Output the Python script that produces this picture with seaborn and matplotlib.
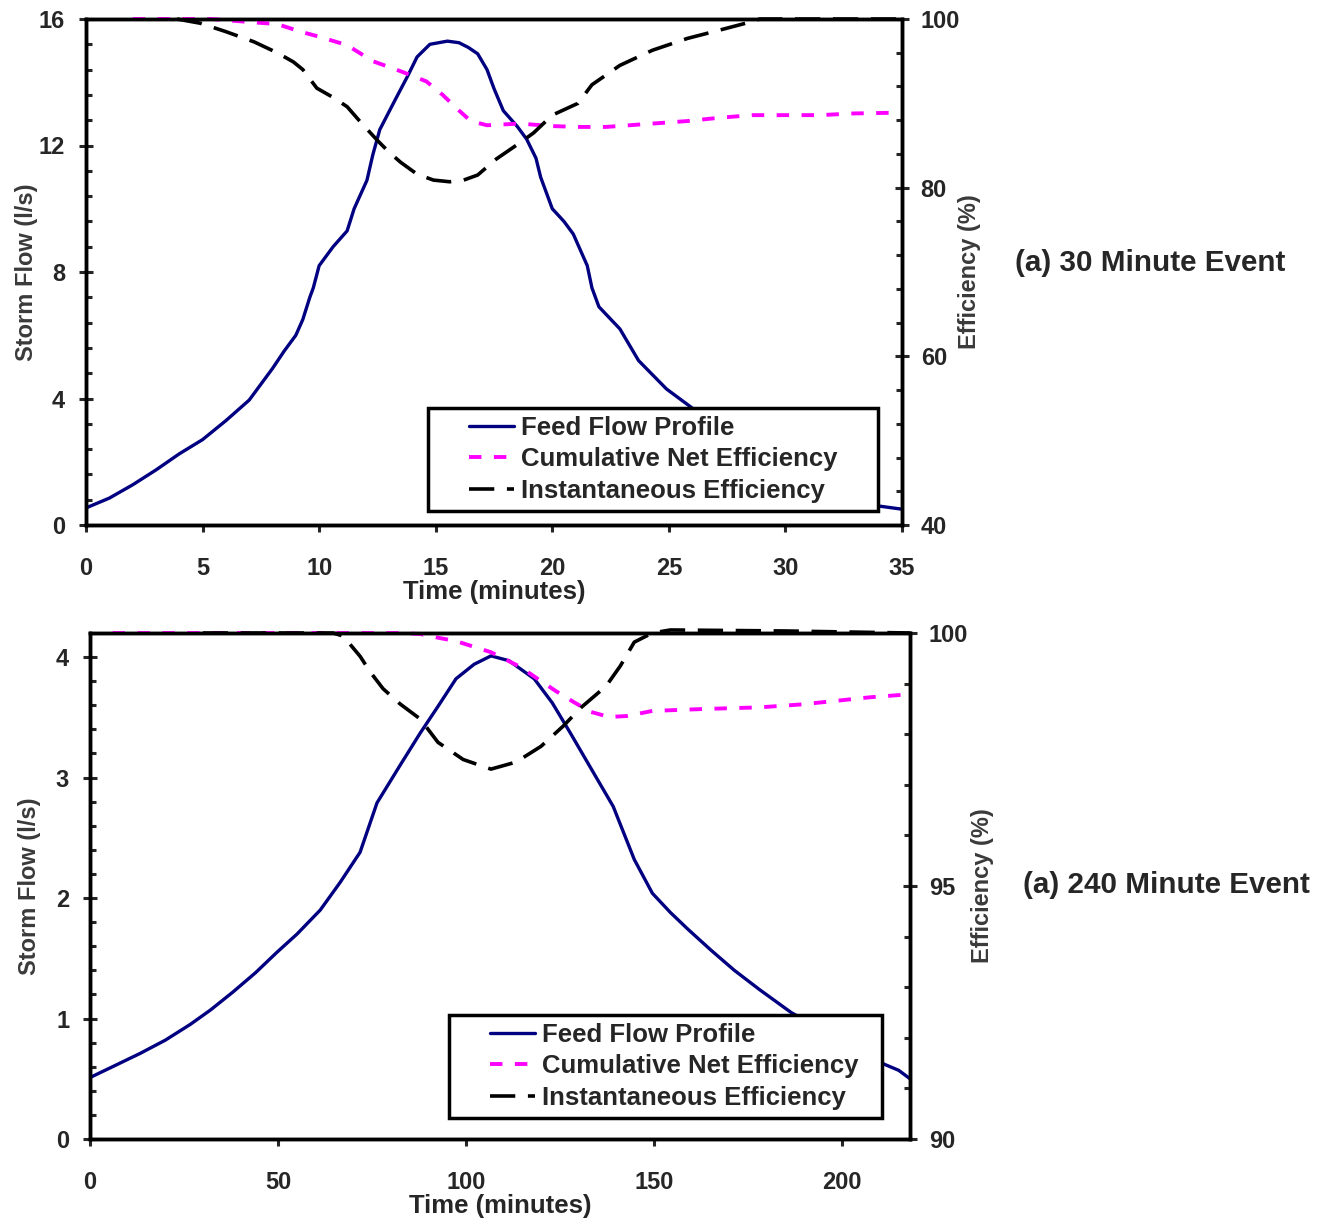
import matplotlib
matplotlib.use("Agg")
import matplotlib.pyplot as plt
import seaborn as sns
from matplotlib.lines import Line2D
from matplotlib.legend_handler import HandlerLine2D
from matplotlib.ticker import MultipleLocator

# ---- (a) 30 minute event ----
t30_flow = [0, 1, 2, 3, 4, 5, 6, 7, 8, 8.5, 9, 9.3, 9.6, 9.75, 10, 10.6, 11.2, 11.5, 12.05,
            12.3, 12.6, 13.3, 13.8, 14.2, 14.75, 15.5, 16.0, 16.4, 16.8, 17.2, 17.5, 17.9,
            18.5, 18.9, 19.3, 19.5, 19.8, 20.0, 20.5, 20.9, 21.2, 21.5, 21.7, 22.0, 22.9,
            23.7, 24.9, 26.0, 27, 28, 29, 30, 31, 32, 33, 34, 34.5, 35]
flow30 = [0.54, 0.85, 1.27, 1.74, 2.25, 2.70, 3.30, 3.95, 4.95, 5.5, 6.0, 6.5, 7.2, 7.5, 8.2,
          8.8, 9.3, 10.0, 10.9, 11.7, 12.5, 13.5, 14.2, 14.8, 15.2, 15.3, 15.25, 15.1, 14.9,
          14.4, 13.8, 13.1, 12.6, 12.2, 11.6, 11.0, 10.4, 10.0, 9.6, 9.2, 8.7, 8.2, 7.5,
          6.9, 6.2, 5.2, 4.3, 3.7, 3.2, 2.7, 2.25, 1.85, 1.5, 1.15, 0.85, 0.6, 0.55, 0.5]

t30_cum = [2.0, 5.4, 7.2, 8.2, 9.2, 10.0, 11.2, 12.3, 13.5, 14.6, 15.3, 15.9, 16.5, 17.2,
           18.6, 20.0, 21.2, 22.3, 24.3, 25.8, 27.2, 28.6, 31.5, 32.9, 35]
cum30 = [100, 100, 99.6, 99.4, 98.5, 97.9, 96.9, 95.0, 93.8, 92.6, 91.0, 89.4, 87.9, 87.4,
         87.6, 87.3, 87.2, 87.2, 87.6, 87.9, 88.3, 88.6, 88.6, 88.8, 88.9]

t30_inst = [3.9, 4.9, 6.0, 7.2, 8.2, 8.9, 9.3, 9.9, 10.6, 11.2, 11.8, 12.5, 13.0, 13.5, 14.2,
            14.9, 15.6, 16.2, 16.8, 17.6, 18.6, 19.2, 20.0, 21.1, 21.7, 22.9, 24.3, 25.8,
            27.2, 28.3, 28.9, 35]
inst30 = [100, 99.5, 98.5, 97.3, 96.0, 94.9, 94.0, 91.8, 90.7, 89.6, 87.7, 85.6, 84.2, 83.0,
          81.6, 80.9, 80.7, 80.9, 81.5, 83.4, 85.3, 86.5, 88.6, 90.0, 92.2, 94.5, 96.3, 97.7,
          98.7, 99.5, 100, 100]

# ---- (a) 240 minute event ----
t240_flow = [0, 6, 13.3, 20, 26.6, 32, 38, 44, 49.7, 55, 61.2, 66.5, 71.8, 76.3, 82.4, 87.8,
             92.5, 97.3, 102.1, 106.6, 111.4, 118.1, 122.9, 127.7, 133.3, 139.1, 144.7,
             149.5, 154.3, 159, 165, 171.3, 178, 186.4, 195, 203, 211.2, 215, 218]
flow240 = [0.51, 0.60, 0.71, 0.82, 0.95, 1.07, 1.22, 1.38, 1.55, 1.70, 1.90, 2.13, 2.38, 2.79,
           3.10, 3.37, 3.59, 3.82, 3.94, 4.01, 3.97, 3.82, 3.62, 3.37, 3.07, 2.76, 2.32,
           2.04, 1.88, 1.74, 1.57, 1.40, 1.24, 1.05, 0.90, 0.76, 0.62, 0.57, 0.50]

t240_cum = [6, 64, 82.4, 87.8, 93, 97.3, 106.6, 114.4, 119.1, 123.9, 128.7, 133.2, 138.0,
            142.8, 149.5, 163.8, 177.9, 189.4, 197.1, 207.4, 218]
cum240 = [100, 100, 100, 99.98, 99.90, 99.84, 99.62, 99.33, 99.09, 98.85, 98.63, 98.44, 98.34,
          98.36, 98.46, 98.50, 98.53, 98.59, 98.65, 98.73, 98.79]

t240_inst = [30, 64.6, 67.3, 71.8, 74.5, 77.9, 82.4, 87.8, 92.5, 99.2, 106.6, 113.3, 119.9,
             125.8, 130.6, 137.2, 141.0, 144.7, 149.5, 154.3, 185, 218]
inst240 = [100, 100, 99.94, 99.54, 99.23, 98.9, 98.6, 98.30, 97.84, 97.50, 97.31, 97.45,
           97.76, 98.16, 98.53, 98.95, 99.35, 99.82, 100, 100.06, 100.04, 100]

series_labels = ["Feed Flow Profile", "Cumulative Net Efficiency", "Instantaneous Efficiency"]

sns.set_style("ticks")
plt.rcParams["font.family"] = ["Liberation Sans", "DejaVu Sans"]
plt.rcParams["font.weight"] = "bold"
plt.rcParams["axes.labelweight"] = "bold"

NAVY = "#000080"
PINK = "#FF00FF"


def draw_panel(ax, tf, ff, tc, cc, ti, ci, xmax, xstep, ylim, ymaj, ymin, elim, emaj, emin,
               leg_bbox, ylab_x, elab_x):
    ax2 = ax.twinx()
    sns.lineplot(x=tf, y=ff, ax=ax, color=NAVY, linewidth=2.4, errorbar=None)
    sns.lineplot(x=tc, y=cc, ax=ax2, color=PINK, linewidth=2.8, errorbar=None,
                 linestyle=(0, (3.2, 3.2)), clip_on=False)
    sns.lineplot(x=ti, y=ci, ax=ax2, color="black", linewidth=2.6, errorbar=None,
                 linestyle=(0, (7, 3.5)), clip_on=False)

    ax.set_xlim(0, xmax)
    ax.set_ylim(*ylim)
    ax2.set_ylim(*elim)
    ax.xaxis.set_major_locator(MultipleLocator(xstep))
    ax.yaxis.set_major_locator(MultipleLocator(ymaj))
    ax.yaxis.set_minor_locator(MultipleLocator(ymin))
    ax2.yaxis.set_major_locator(MultipleLocator(emaj))
    ax2.yaxis.set_minor_locator(MultipleLocator(emin))

    for a in (ax, ax2):
        for sp in a.spines.values():
            sp.set_visible(True)
            sp.set_linewidth(2.5)
            sp.set_color("black")
    ax.tick_params(axis="x", which="major", direction="out", length=5, width=2.2,
                   pad=18, labelsize=17)
    ax.tick_params(axis="y", which="major", direction="inout", length=10, width=2.2,
                   pad=10, labelsize=17)
    ax.tick_params(axis="y", which="minor", direction="in", length=4.5, width=2.2)
    ax2.tick_params(axis="y", which="major", direction="inout", length=10, width=2.2,
                    pad=8.5, labelsize=17)
    ax2.tick_params(axis="y", which="minor", direction="in", length=4.5, width=2.2)
    for lab in ax.get_xticklabels() + ax.get_yticklabels() + ax2.get_yticklabels():
        lab.set_fontweight("bold")

    ax.set_xlabel("Time (minutes)", fontsize=18.5, fontweight="bold", labelpad=0)
    ax.set_ylabel("")
    ax2.set_ylabel("")
    ax.text(ylab_x, 0.5, "Storm Flow (l/s)", transform=ax.transAxes, rotation=90,
            ha="center", va="center", fontsize=17, fontweight="bold", color="#3a3a3a")
    ax2.text(elab_x, 0.5, "Efficiency (%)", transform=ax2.transAxes, rotation=90,
             ha="center", va="center", fontsize=17, fontweight="bold", color="#3a3a3a")

    lines = ax.get_lines() + ax2.get_lines()
    leg = ax2.legend(lines, series_labels, loc="upper left", bbox_to_anchor=leg_bbox,
                     mode="expand", borderaxespad=0, fontsize=18.5, frameon=True,
                     fancybox=False, framealpha=1, edgecolor="black", borderpad=0.3,
                     labelspacing=0.3, handlelength=3.06, handletextpad=0.27,
                     handler_map={Line2D: HandlerLine2D(xpad=1.31, ypad=0.5)})
    leg.get_frame().set_linewidth(2.5)
    for txt in leg.get_texts():
        txt.set_fontweight("bold")
    return ax2


fig = plt.figure(figsize=(13.25, 12.18), dpi=100)
ax_top = fig.add_axes([86 / 1325, 1 - 525 / 1218, 816 / 1325, 506 / 1218])
ax_bot = fig.add_axes([90 / 1325, 1 - 1139 / 1218, 820 / 1325, 506 / 1218])

draw_panel(ax_top, t30_flow, flow30, t30_cum, cum30, t30_inst, inst30,
           35, 5, (0, 16), 4, 0.8, (40, 100), 20, 4,
           (0.4191, 0.0, 0.5515, 0.2312), -0.073, 1.083)
draw_panel(ax_bot, t240_flow, flow240, t240_cum, cum240, t240_inst, inst240,
           218, 50, (0, 4.2), 1, 0.2, (90, 100), 5, 1,
           (0.4378, 0.0, 0.528, 0.2451), -0.074, 1.088)

fig.text(1150 / 1325, 1 - 263 / 1218, "(a) 30 Minute Event", ha="center", va="center",
         fontsize=21.3, fontweight="bold")
fig.text(1166 / 1325, 1 - 885 / 1218, "(a) 240 Minute Event", ha="center", va="center",
         fontsize=21.3, fontweight="bold")

fig.savefig("out.png", dpi=100)
plt.close(fig)
